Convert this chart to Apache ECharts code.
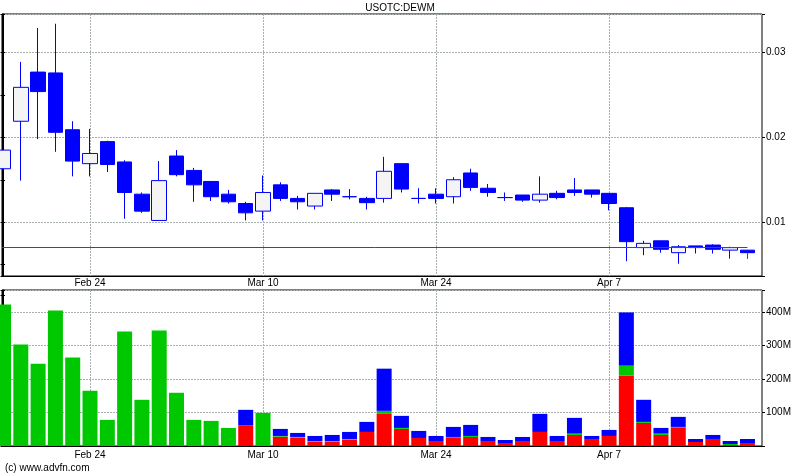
<!DOCTYPE html>
<html>
<head>
<meta charset="utf-8">
<style>
  html, body { margin: 0; padding: 0; background: #ffffff; }
  #chart { width: 800px; height: 475px; }
</style>
<script src="https://cdn.jsdelivr.net/npm/echarts@6/dist/echarts.min.js"></script>
</head>
<body>
<div id="chart"></div>
<script>
// ---------- data ----------
var dates = ['Feb 14','Feb 18','Feb 19','Feb 20','Feb 21',
  'Feb 24','Feb 25','Feb 26','Feb 27','Feb 28',
  'Mar 3','Mar 4','Mar 5','Mar 6','Mar 7',
  'Mar 10','Mar 11','Mar 12','Mar 13','Mar 14',
  'Mar 17','Mar 18','Mar 19','Mar 20','Mar 21',
  'Mar 24','Mar 25','Mar 26','Mar 27','Mar 28',
  'Mar 31','Apr 1','Apr 2','Apr 3','Apr 4',
  'Apr 7','Apr 8','Apr 9','Apr 10','Apr 11',
  'Apr 14','Apr 15','Apr 16','Apr 17'];

var opens  = [0.0163,0.0219,0.0277,0.0276,0.0209,0.0169,0.0195,0.0171,0.0133,0.0102,
              0.0178,0.0161,0.0148,0.0133,0.0122,0.0113,0.0144,0.0128,0.0119,0.0138,
              0.0130,0.0128,0.0128,0.0169,0.0128,0.0133,0.0130,0.0158,0.0140,0.0129,
              0.0132,0.0126,0.0134,0.0138,0.0138,0.0134,0.0117,0.0070,0.0078,0.0064,
              0.0072,0.0073,0.0067,0.0067];
var closes = [0.0185,0.0259,0.0254,0.0206,0.0172,0.0181,0.0168,0.0135,0.0113,0.0149,
              0.0156,0.0144,0.0130,0.0124,0.0111,0.0135,0.0128,0.0124,0.0134,0.0133,
              0.0130,0.0123,0.0160,0.0139,0.0128,0.0128,0.0150,0.0141,0.0135,0.0129,
              0.0126,0.0133,0.0129,0.0135,0.0133,0.0122,0.0077,0.0075,0.0068,0.0071,
              0.0070,0.0068,0.0070,0.0064];
var lows   = [0.0163,0.0149,0.0198,0.0183,0.0154,0.0154,0.0159,0.0104,0.0111,0.0102,
              0.0154,0.0124,0.0125,0.0122,0.0102,0.0102,0.0125,0.0115,0.0115,0.0125,
              0.0127,0.0115,0.0123,0.0135,0.0122,0.0122,0.0122,0.0137,0.0130,0.0125,
              0.0124,0.0123,0.0127,0.0131,0.0129,0.0114,0.0054,0.0061,0.0064,0.0051,
              0.0063,0.0063,0.0057,0.0057];
var highs  = [0.0185,0.0289,0.0329,0.0334,0.0219,0.0210,0.0196,0.0173,0.0135,0.0172,
              0.0185,0.0164,0.0148,0.0138,0.0124,0.0155,0.0147,0.0131,0.0134,0.0139,
              0.0139,0.0130,0.0177,0.0169,0.0140,0.0140,0.0153,0.0163,0.0145,0.0135,
              0.0132,0.0154,0.0137,0.0152,0.0138,0.0134,0.0118,0.0078,0.0078,0.0073,
              0.0072,0.0074,0.0071,0.0067];

// volume in millions: sell (red), unclassified (green), buy (blue)
var volSell    = [0,0,0,0,0,0,0,0,0,0, 0,0,0,0,62,0,28,25,13,13,
                  19,42,96,51,24,15,24,27,15,9, 15,42,15,33,21,30,210,69,33,54,
                  12,21,3,9];
var volUnknown = [423,303,246,405,264,165,78,342,138,345, 159,78,75,54,0,99,2,2,2,2,
                  2,0,9,3,0,0,3,3,0,0, 0,0,0,4,0,0,30,3,4,3,
                  0,0,3,0];
var volBuy     = [0,0,0,0,0,0,0,0,0,0, 0,0,0,0,46,0,21,12,15,18,
                  21,30,126,36,21,15,30,33,12,9, 12,54,15,47,9,18,159,66,17,30,
                  9,12,9,12];

var tickDates = ['Feb 24','Mar 10','Mar 24','Apr 7'];
var priceTicks = [0.01, 0.02, 0.03];
var volTicks = [100, 200, 300, 400];
var title = 'USOTC:DEWM';
var footer = '(c) www.advfn.com';

// ---------- build ----------
var tickIdx = tickDates.map(function (d) { return dates.indexOf(d); });
var candleData = dates.map(function (d, i) { return [i, opens[i], closes[i], lows[i], highs[i]]; });
// value first, index second -> the value dimension is the one that gets stacked
function pairs(arr) { return arr.map(function (v, i) { return [v, i]; }); }

var X_MIN = -0.087, X_MAX = 43.84;
var P_MIN = 0.00365, P_MAX = 0.03455;
var V_MIN = 0, V_MAX = 466;
var FONT = 'Liberation Sans, Arial, sans-serif';
var FS = 10;
var gridLine = { show: true, lineStyle: { color: '#a8b0b0', type: [2, 1], width: 1 } };

function xAxisDef(gridIndex, margin) {
  return {
    type: 'value', gridIndex: gridIndex, min: X_MIN, max: X_MAX,
    axisLine: { show: true, onZero: false, lineStyle: { color: '#000', width: 1 } },
    axisTick: { show: false, customValues: tickIdx },
    axisLabel: {
      show: true, customValues: tickIdx, margin: margin, color: '#000',
      fontFamily: FONT, fontSize: FS,
      formatter: function (v) { return dates[Math.round(v)] || ''; }
    },
    splitLine: gridLine
  };
}

var lastI = dates.length - 1;
var prevClose = closes[lastI - 1];

var option = {
  animation: false,
  backgroundColor: '#ffffff',
  title: {
    text: title, left: 'center', top: 3, padding: 0,
    textStyle: { fontFamily: FONT, fontSize: FS, fontWeight: 'normal', color: '#000' }
  },
  graphic: [{
    type: 'text', left: 5, top: 463,
    style: { text: footer, font: FS + 'px ' + FONT, fill: '#000' }
  }],
  grid: [
    { left: 2, right: 38, top: 14, bottom: 199, show: true, borderColor: '#000', borderWidth: 1, backgroundColor: 'transparent' },
    { left: 2, right: 38, top: 290, bottom: 29, show: true, borderColor: '#000', borderWidth: 1, backgroundColor: 'transparent' }
  ],
  xAxis: [xAxisDef(0, 2), xAxisDef(1, 4)],
  yAxis: [
    // price: right axis with 0.005 ticks and labels at 0.01 steps
    { type: 'value', gridIndex: 0, position: 'right', min: P_MIN, max: P_MAX,
      minInterval: 0.005, maxInterval: 0.005,
      axisLine: { show: true, lineStyle: { color: '#000' } },
      axisTick: { show: true, inside: true, length: 3, lineStyle: { color: '#000' } },
      axisLabel: { show: true, margin: 4, color: '#000', fontFamily: FONT, fontSize: FS,
        formatter: function (v) {
          for (var k = 0; k < priceTicks.length; k++) if (Math.abs(v - priceTicks[k]) < 1e-7) return priceTicks[k].toFixed(2);
          return '';
        } },
      splitLine: { show: false } },
    { type: 'value', gridIndex: 0, position: 'right', min: P_MIN, max: P_MAX,
      minInterval: 0.01, maxInterval: 0.01,
      axisLine: { show: false },
      axisTick: { show: true, inside: false, length: 3, lineStyle: { color: '#000' } },
      axisLabel: { show: false },
      splitLine: gridLine },
    { type: 'value', gridIndex: 0, position: 'left', min: P_MIN, max: P_MAX,
      minInterval: 0.005, maxInterval: 0.005,
      axisLine: { show: true, lineStyle: { color: '#000' } },
      axisTick: { show: true, inside: true, length: 3, lineStyle: { color: '#000' } },
      axisLabel: { show: false }, splitLine: { show: false } },
    // volume
    { type: 'value', gridIndex: 1, position: 'right', min: V_MIN, max: V_MAX, interval: 50,
      axisLine: { show: true, lineStyle: { color: '#000' } },
      axisTick: { show: true, inside: true, length: 3, lineStyle: { color: '#000' } },
      axisLabel: { show: true, margin: 4, color: '#000', fontFamily: FONT, fontSize: FS,
        formatter: function (v) { return volTicks.indexOf(Math.round(v)) >= 0 && Math.abs(v - Math.round(v)) < 1e-6 ? Math.round(v) + 'M' : ''; } },
      splitLine: { show: false } },
    { type: 'value', gridIndex: 1, position: 'right', min: V_MIN, max: V_MAX, interval: 100,
      axisLine: { show: false },
      axisTick: { show: true, inside: false, length: 3, lineStyle: { color: '#000' } },
      axisLabel: { show: false },
      splitLine: gridLine },
    { type: 'value', gridIndex: 1, position: 'left', min: V_MIN, max: V_MAX, interval: 50,
      axisLine: { show: true, lineStyle: { color: '#000' } },
      axisTick: { show: true, inside: true, length: 3, lineStyle: { color: '#000' } },
      axisLabel: { show: false }, splitLine: { show: false } }
  ],
  series: [
    {
      type: 'candlestick', xAxisIndex: 0, yAxisIndex: 0, barWidth: 15,
      data: candleData,
      itemStyle: { color: '#f4f4f4', borderColor: '#0000ff', color0: '#0000ff', borderColor0: '#0000ff', borderWidth: 1 },
      markLine: {
        silent: true, symbol: 'none', animation: false,
        label: { show: false },
        lineStyle: { color: '#ff0000', type: 'solid', width: 1 },
        data: [
          [{ coord: [X_MIN, prevClose] }, { coord: [lastI, prevClose] }],
          [{ coord: [lastI, Math.min(opens[lastI], closes[lastI])] }, { coord: [lastI, lows[lastI]] }]
        ]
      }
    },
    { type: 'bar', name: 'sell', xAxisIndex: 1, yAxisIndex: 3, stack: 'vol', barWidth: 15,
      encode: { x: 1, y: 0 },
      data: pairs(volSell), itemStyle: { color: '#ff0000' } },
    { type: 'bar', name: 'unknown', xAxisIndex: 1, yAxisIndex: 3, stack: 'vol', barWidth: 15,
      encode: { x: 1, y: 0 },
      data: pairs(volUnknown),
      itemStyle: { color: '#00c800' } },
    { type: 'bar', name: 'buy', xAxisIndex: 1, yAxisIndex: 3, stack: 'vol', barWidth: 15,
      encode: { x: 1, y: 0 },
      data: pairs(volBuy), itemStyle: { color: '#0000ff' } }
  ]
};

var chart = echarts.init(document.getElementById('chart'), null, { renderer: 'canvas' });
chart.setOption(option);
</script>
</body>
</html>
